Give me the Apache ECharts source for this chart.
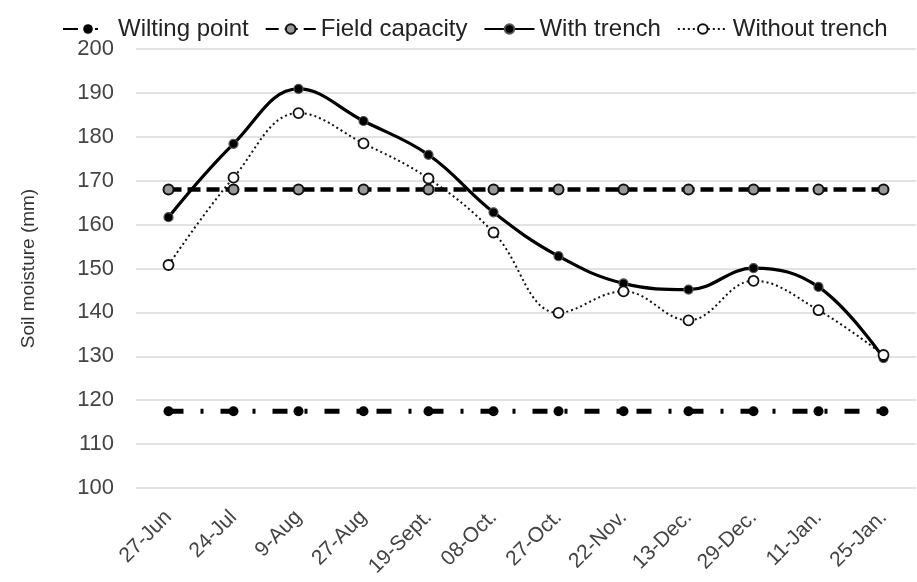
<!DOCTYPE html>
<html lang="en">
<head>
    <meta charset="UTF-8">
    <title>Soil moisture</title>
    <script type="text/javascript" src="https://cdn.jsdelivr.net/npm/echarts@6/dist/echarts.min.js"></script>
    <style>
        html, body { margin: 0; padding: 0; background: #fff; }
    </style>
</head>
<body>
<div id="chart" style="width: 917px;height:582px;"></div>

<script type="text/javascript">
    // dates of measurement
    var dates = ['27-Jun', '24-Jul', '9-Aug', '27-Aug', '19-Sept.', '08-Oct.', '27-Oct.', '22-Nov.', '13-Dec.', '29-Dec.', '11-Jan.', '25-Jan.'];
    // soil moisture (mm)
    var wiltingPoint  = [117.5, 117.5, 117.5, 117.5, 117.5, 117.5, 117.5, 117.5, 117.5, 117.5, 117.5, 117.5];
    var fieldCapacity = [168, 168, 168, 168, 168, 168, 168, 168, 168, 168, 168, 168];
    var withTrench    = [161.7, 178.4, 190.9, 183.6, 175.9, 162.8, 152.8, 146.6, 145.2, 150.1, 145.8, 129.6];
    var withoutTrench = [150.8, 170.7, 185.4, 178.5, 170.5, 158.2, 139.9, 144.8, 138.2, 147.2, 140.5, 130.3];
    var yMin = 100, yMax = 200, yStep = 10;

    var font = 'Liberation Sans, Arial, sans-serif';

    var option = {
        backgroundColor: '#fff',
        animation: false,
        textStyle: { fontFamily: font },
        legend: {
            top: 12,
            left: 57,
            itemWidth: 50,
            itemHeight: 12,
            itemGap: 16,
            textStyle: { fontFamily: font, fontSize: 24, color: '#222' },
            data: ['Wilting point', 'Field capacity', 'With trench', 'Without trench']
        },
        grid: { left: 136, right: 1, top: 49, bottom: 94 },
        xAxis: {
            type: 'category',
            data: dates,
            boundaryGap: true,
            axisLine: { show: false },
            axisTick: { show: false },
            axisLabel: {
                rotate: 45,
                margin: 26,
                interval: 0,
                fontFamily: font,
                fontSize: 21,
                color: '#444'
            }
        },
        yAxis: {
            type: 'value',
            min: yMin,
            max: yMax,
            interval: yStep,
            name: 'Soil moisture (mm)',
            nameLocation: 'middle',
            nameGap: 98,
            nameRotate: 90,
            nameTextStyle: { fontFamily: font, fontSize: 19, color: '#333' },
            axisLine: { show: false },
            axisTick: { show: false },
            axisLabel: { margin: 22, fontFamily: font, fontSize: 22, color: '#444' },
            splitLine: { lineStyle: { color: '#d9d9d9', width: 1.5 } }
        },
        series: [
            {
                name: 'Wilting point',
                type: 'line',
                data: wiltingPoint,
                symbol: 'circle',
                symbolSize: 10,
                itemStyle: { color: '#000' },
                lineStyle: { color: '#000', width: 5, type: [15, 17, 3, 17] }
            },
            {
                name: 'Field capacity',
                type: 'line',
                data: fieldCapacity,
                symbol: 'circle',
                symbolSize: 10,
                z: 3,
                itemStyle: { color: '#999', borderColor: '#111', borderWidth: 2 },
                lineStyle: { color: '#000', width: 4.5, type: [13, 6] }
            },
            {
                name: 'With trench',
                type: 'line',
                data: withTrench,
                smooth: 0.4,
                symbol: 'circle',
                symbolSize: 9,
                itemStyle: { color: '#000', borderColor: '#555', borderWidth: 1.2 },
                lineStyle: { color: '#000', width: 3.2 }
            },
            {
                name: 'Without trench',
                type: 'line',
                data: withoutTrench,
                smooth: 0.4,
                symbol: 'circle',
                symbolSize: 10,
                itemStyle: { color: '#fff', borderColor: '#111', borderWidth: 1.8 },
                lineStyle: { color: '#111', width: 2, type: [2, 3] }
            }
        ]
    };

    var chart = echarts.init(document.getElementById('chart'));
    chart.setOption(option);
</script>
</body>
</html>
